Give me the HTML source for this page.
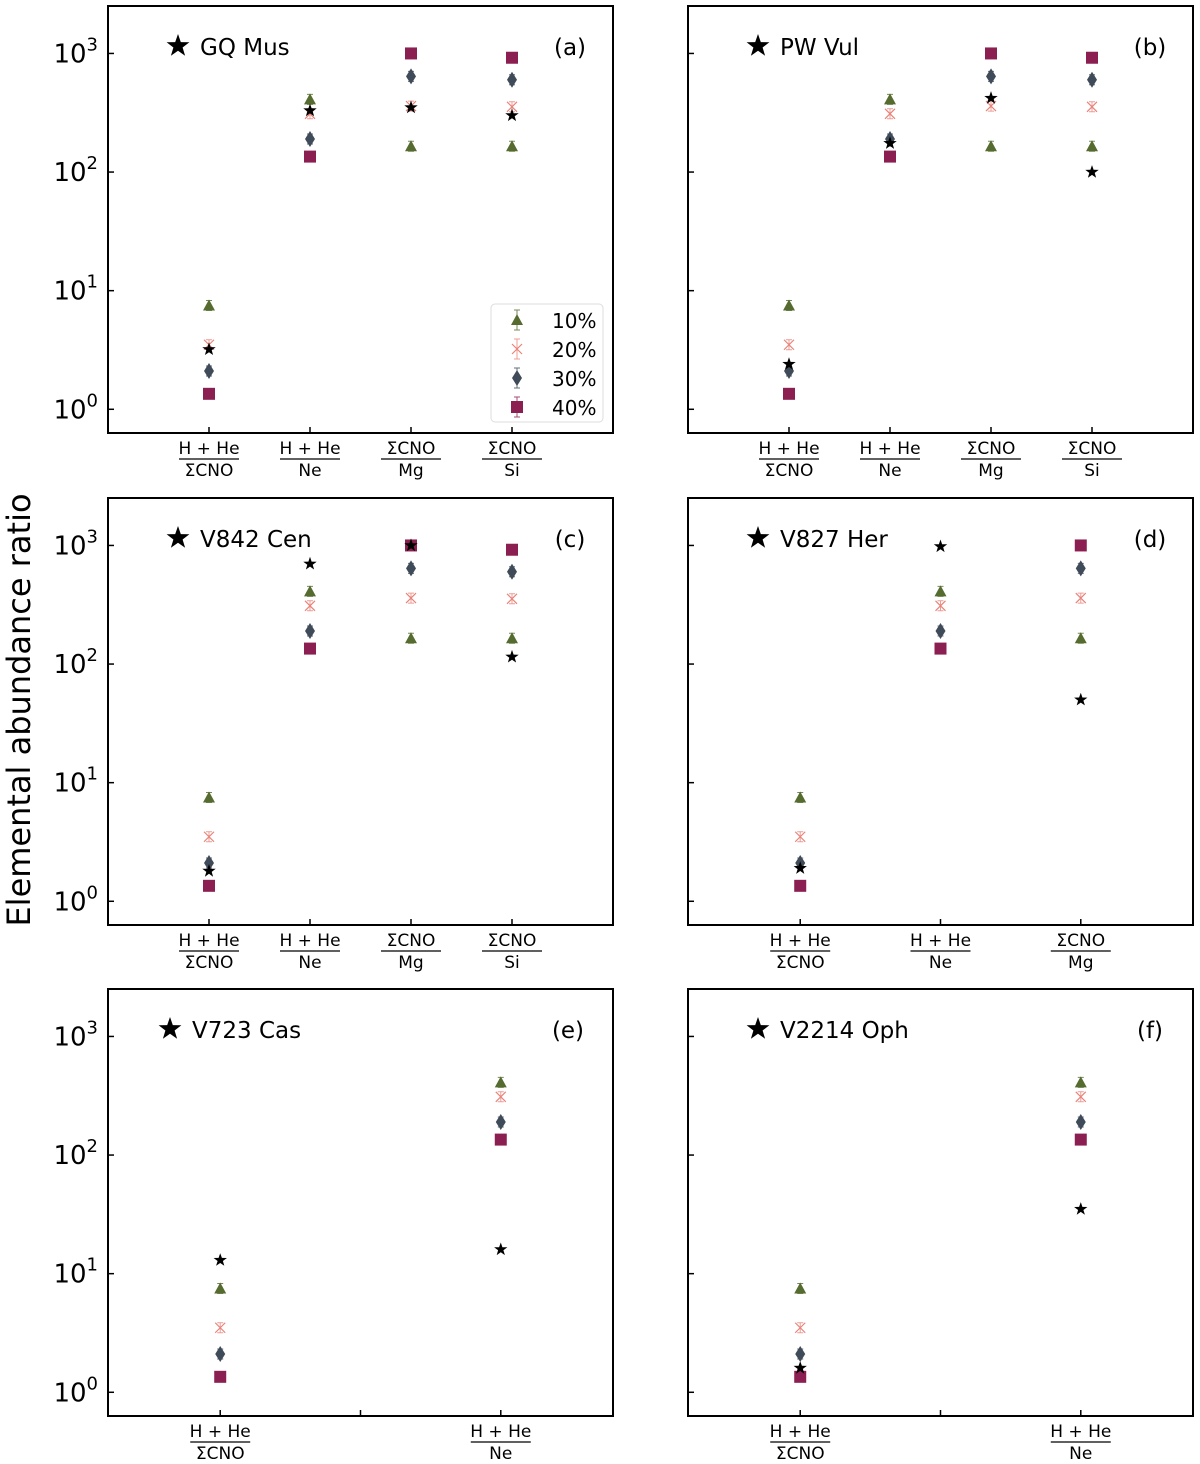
<!DOCTYPE html>
<html><head><meta charset="utf-8"><style>body{margin:0;background:#fff}svg{display:block}</style></head>
<body>
<svg id="fig" width="1200" height="1464" xmlns="http://www.w3.org/2000/svg" font-family="'DejaVu Sans','Liberation Sans',sans-serif"></svg>
<script>
const labels4 = [["H + He","ΣCNO"],["H + He","Ne"],["ΣCNO","Mg"],["ΣCNO","Si"]];
const m10 = [7.5, 410, 165, 165];
const m20 = [3.5, 310, 360, 355];
const m30 = [2.1, 190, 640, 600];
const m40 = [1.35, 135, 1000, 920];
const starNames = ["GQ Mus","PW Vul","V842 Cen","V827 Her","V723 Cas","V2214 Oph"];
const panelTags = ["(a)","(b)","(c)","(d)","(e)","(f)"];
const nCats = [4,4,4,3,2,2];
const obsA = [3.2, 330, 350, 300];
const obsB = [2.4, 175, 420, 100];
const obsC = [1.8, 700, 1000, 115];
const obsD = [1.9, 980, 50];
const obsE = [13, 16];
const obsF = [1.6, 35];
const obsAll = [obsA,obsB,obsC,obsD,obsE,obsF];
const yTicks = [0,1,2,3];

const NS="http://www.w3.org/2000/svg";
const svg=document.getElementById('fig');
function mk(tag,attrs,parent){const e=document.createElementNS(NS,tag);for(const k in attrs)e.setAttribute(k,attrs[k]);(parent||svg).appendChild(e);return e;}
const cols=["#556b2f","#e8837a","#3f4b59","#8c1f52"];
const lefts=[108,688], tops=[6,498,989], W=505, H=427;
const ylo=-0.2, yhi=3.4;
function starPath(cx,cy,r){let p="";for(let i=0;i<10;i++){const a=-Math.PI/2+i*Math.PI/5;const rr=i%2?r*0.4:r;p+=(i?"L":"M")+(cx+rr*Math.cos(a)).toFixed(1)+","+(cy+rr*Math.sin(a)).toFixed(1);}return p+"Z";}
function marker(g,k,cx,cy,name){let e;
 if(k===0)e=mk('path',{d:`M${cx},${cy-6}L${cx+6},${cy+5}L${cx-6},${cy+5}Z`,fill:cols[0]},g);
 else if(k===1){e=mk('path',{d:`M${cx-5},${cy-5}L${cx+5},${cy+5}M${cx-5},${cy+5}L${cx+5},${cy-5}`,stroke:cols[1],'stroke-width':1.2,fill:'none'},g);}
 else if(k===2)e=mk('path',{d:`M${cx},${cy-8}L${cx+5},${cy}L${cx},${cy+8}L${cx-5},${cy}Z`,fill:cols[2]},g);
 else e=mk('rect',{x:cx-6,y:cy-6,width:12,height:12,fill:cols[3]},g);
 
 
 return e;}
function errbar(g,k,cx,cy,d){mk('path',{d:`M${cx},${cy-d}L${cx},${cy+d}M${cx-3},${cy-d}L${cx+3},${cy-d}M${cx-3},${cy+d}L${cx+3},${cy+d}`,stroke:cols[k],'stroke-width':1,fill:'none',opacity:0.8},g);}
const models=[m10,m20,m30,m40];
for(let p=0;p<6;p++){
 const x0=lefts[p%2], y0=tops[Math.floor(p/2)], n=nCats[p];
 const g=mk('g',{});
 
 
 const span = n===4?5:(n===3?3.6:1.8);
 const xmin = n===4?-1:(n===3?-0.8:-0.4);
 const X=i=>x0+(i-xmin)/span*W;
 const Y=v=>y0+H-(Math.log10(v)-ylo)/(yhi-ylo)*H;
 mk('rect',{x:x0,y:y0,width:W,height:H,fill:'none',stroke:'#000','stroke-width':2},g);
 yTicks.forEach(t=>{const yy=y0+H-(t-ylo)/(yhi-ylo)*H;
  mk('line',{x1:x0,x2:x0+6,y1:yy,y2:yy,stroke:'#000','stroke-width':1.5},g);
  if(p%2===0){const tx=mk('text',{x:x0-10,y:yy+9,'text-anchor':'end','font-size':26},g);tx.textContent='10';
   const s=mk('tspan',{dy:-12,'font-size':18},tx);s.textContent=String(t);
   }
 });
 for(let i=0;i<n;i++){
  const xx=X(i), lab=labels4[i];
  mk('line',{x1:xx,x2:xx,y1:y0+H,y2:y0+H-6,stroke:'#000','stroke-width':1.5},g);
  const t1=mk('text',{x:xx,y:y0+H+21,'text-anchor':'middle','font-size':17},g);t1.textContent=lab[0];
  mk('line',{x1:xx-30,x2:xx+30,y1:y0+H+26,y2:y0+H+26,stroke:'#000','stroke-width':1.3},g);
  const t2=mk('text',{x:xx,y:y0+H+43,'text-anchor':'middle','font-size':17},g);t2.textContent=lab[1];
  
  
 }
 if(n===2){const xx=X(0.5);mk('line',{x1:xx,x2:xx,y1:y0+H,y2:y0+H-6,stroke:'#000','stroke-width':1.5},g);}
 for(let k=0;k<4;k++)for(let i=0;i<n;i++){const cx=X(i),cy=Y(models[k][i]);
  errbar(g,k,cx,cy,5);marker(g,k,cx,cy,'model-'+(k+1)*10+'-point');}
 obsAll[p].forEach((v,i)=>{const e=mk('path',{d:starPath(X(i),Y(v),7),fill:'#000'},g);
  });
 const lx = p===4?x0+62:x0+70;
 mk('path',{d:starPath(lx,y0+40,12),fill:'#000'},g);
 const nm=mk('text',{x:lx+22,y:y0+49,'font-size':23},g);nm.textContent=starNames[p];
 
 const tg=mk('text',{x:x0+(p===4?460:462),y:y0+49,'text-anchor':'middle','font-size':23},g);tg.textContent=panelTags[p];
 
 if(p===0){
  const lg=mk('g',{},g);
  
  mk('rect',{x:491,y:304,width:112,height:118,rx:4,fill:'#fff',stroke:'#ddd'},lg);
  ["10%","20%","30%","40%"].forEach((s,k)=>{const yy=320+k*29;errbar(lg,k,517,yy,10);marker(lg,k,517,yy,'legend-marker');
   const t=mk('text',{x:552,y:yy+8,'font-size':20},lg);t.textContent=s;
   });
 }
}
const yl=mk('text',{x:0,y:0,'font-size':32,'text-anchor':'middle',transform:'translate(30,710) rotate(-90)'});
yl.textContent='Elemental abundance ratio';

</script>
</body></html>
